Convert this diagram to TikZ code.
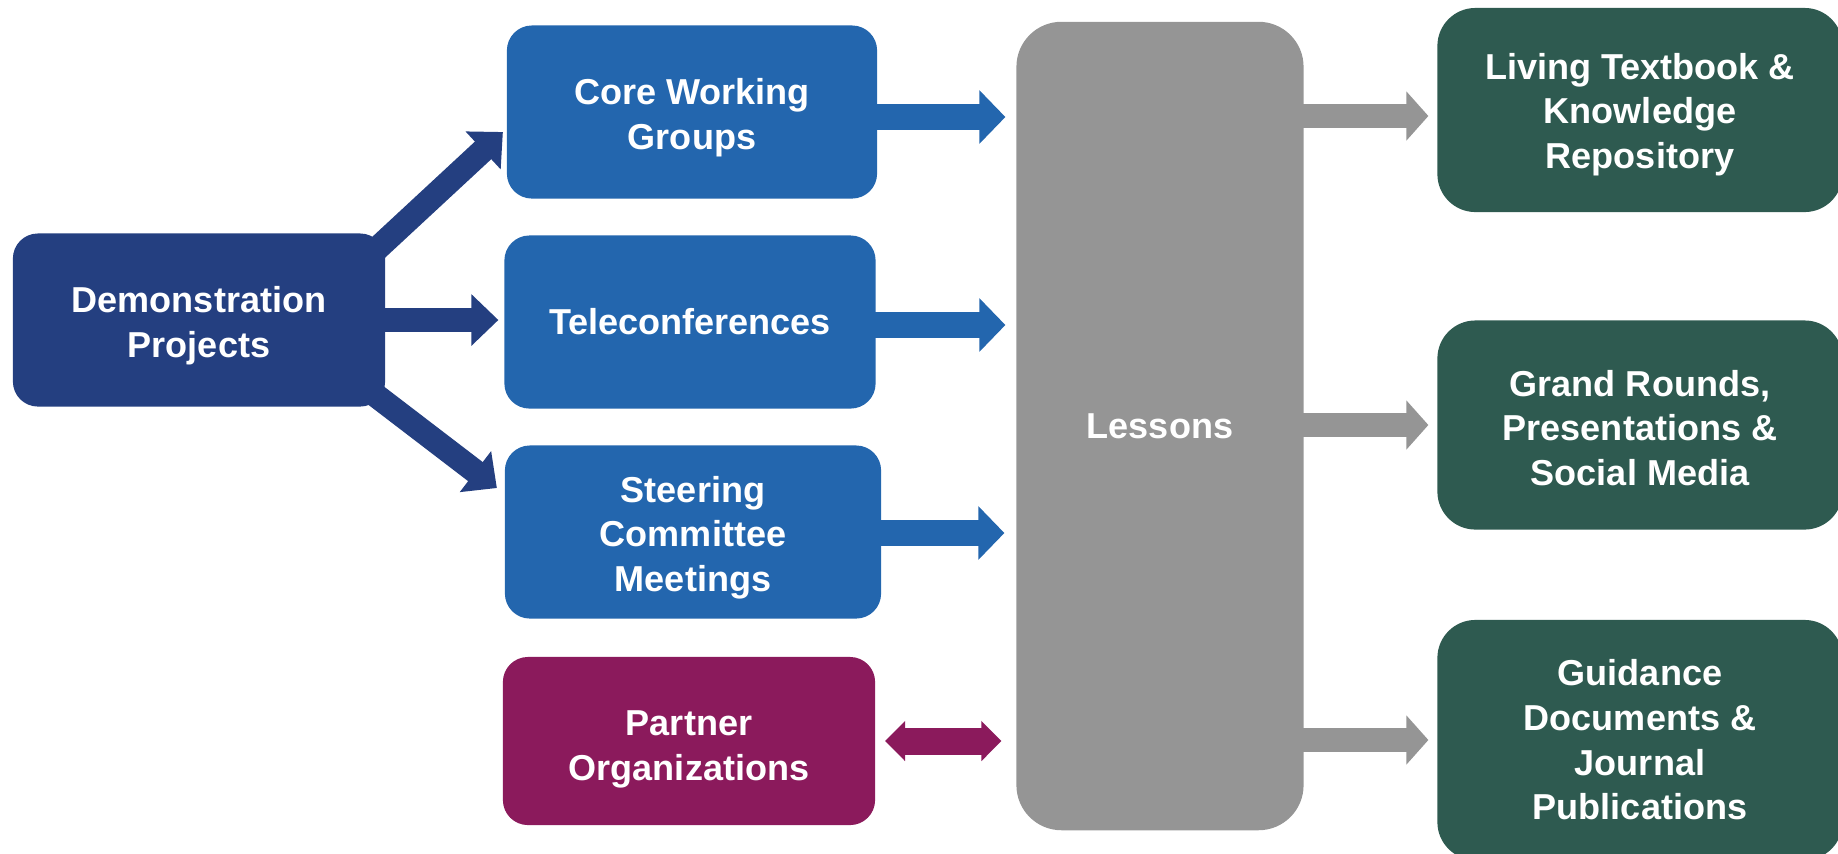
\documentclass[tikz,border=0pt]{standalone}
\usepackage{fontspec}
\setmainfont{Liberation Sans}
\usepackage{xcolor}
\usetikzlibrary{arrows.meta,backgrounds,calc}

\definecolor{navy}{HTML}{243F80}
\definecolor{chanblue}{HTML}{2366AE}
\definecolor{plum}{HTML}{8B1A5C}
\definecolor{hubgray}{HTML}{959595}
\definecolor{outgreen}{HTML}{2E5A50}

% text block set a little lower in its box
\newcommand{\droptext}[2]{\raisebox{-#1}[\height][\depth]{\begin{tabular}{@{}c@{}}#2\end{tabular}}}

\begin{document}
\begin{tikzpicture}[
  x=0.01cm,
  y=-0.01cm,
  box/.style={inner sep=0pt, outer sep=0pt, text=white, align=center,
    font=\bfseries\fontsize{10.25pt}{12.7pt}\selectfont},
  srcbox/.style={box, fill=navy, rounded corners=0.25cm, minimum width=3.72cm, minimum height=1.73cm},
  chanbox/.style={box, fill=chanblue, rounded corners=0.25cm, minimum height=1.73cm},
  partnerbox/.style={box, fill=plum, rounded corners=0.25cm},
  hub/.style={box, fill=hubgray, rounded corners=0.45cm},
  outbox/.style={box, fill=outgreen, rounded corners=0.38cm, minimum width=4.05cm},
  srcarrow/.style={draw=navy, line width=0.24cm, -{Triangle[length=0.27cm, width=0.50cm]}},
  chanarrow/.style={draw=chanblue, line width=0.26cm, -{Triangle[length=0.26cm, width=0.52cm]}},
  outarrow/.style={draw=hubgray, line width=0.24cm, -{Triangle[length=0.22cm, width=0.48cm]}},
  partnerarrow/.style={draw=plum, line width=0.27cm,
    {Triangle[length=0.20cm, width=0.39cm]}-{Triangle[length=0.20cm, width=0.39cm]}}
]
\path[use as bounding box, clip] (0,0) rectangle (1838,853);

% source
\node[srcbox] (demo) at (199,320) {\droptext{0.06cm}{Demonstration\\Projects}};

% channels
\node[chanbox, minimum width=3.70cm] (core) at (692,112) {\droptext{0.06cm}{Core Working\\Groups}};
\node[chanbox, minimum width=3.71cm] (tele) at (690,322) {Teleconferences};
\node[chanbox, minimum width=3.76cm] (steer) at (693,532) {\droptext{0.06cm}{Steering\\Committee\\Meetings}};
\node[partnerbox, minimum width=3.72cm, minimum height=1.68cm] (partner) at (689,741) {\droptext{0.08cm}{Partner\\Organizations}};

% hub
\node[hub, minimum width=2.87cm, minimum height=8.08cm] (lessons) at (1160,426) {Lessons};

% outputs
\node[outbox, minimum height=2.04cm] (out1) at (1640,110) {\droptext{0.05cm}{Living Textbook \&\\Knowledge\\Repository}};
\node[outbox, minimum height=2.09cm] (out2) at (1640,425) {\droptext{0.07cm}{Grand Rounds,\\Presentations \&\\Social Media}};
\node[outbox, minimum height=2.40cm] (out3) at (1640,740) {Guidance\\Documents \&\\Journal\\Publications};

% arrows
\begin{scope}[on background layer]
\draw[srcarrow] ($(demo.north east)+(-25,31)$) -- ($(core.west)+(-4,20)$);
\draw[srcarrow, shorten >=0.06cm] (demo.east) -- (demo.east -| tele.west);
\draw[srcarrow] ($(demo.south east)+(-30,-27)$) -- ($(steer.west)+(-8,-44)$);

\draw[chanarrow, shorten >=0.11cm] ($(core.east)+(-20,5)$) -- ($(core.east -| lessons.west)+(0,5)$);
\draw[chanarrow, shorten >=0.11cm] ($(tele.east)+(-20,3)$) -- ($(tele.east -| lessons.west)+(0,3)$);
\draw[chanarrow, shorten >=0.12cm] ($(steer.east)+(-20,1)$) -- ($(steer.east -| lessons.west)+(0,1)$);
\draw[partnerarrow, shorten <=0.10cm, shorten >=0.15cm] (partner.east) -- (partner.east -| lessons.west);

\draw[outarrow, shorten >=0.09cm] ($(lessons.east |- out1)+(-20,6)$) -- ($(out1.west)+(0,6)$);
\draw[outarrow, shorten >=0.09cm] ($(lessons.east |- out2)+(-20,0)$) -- (out2.west);
\draw[outarrow, shorten >=0.09cm] ($(lessons.east |- out3)+(-20,0)$) -- (out3.west);
\end{scope}
\end{tikzpicture}
\end{document}
